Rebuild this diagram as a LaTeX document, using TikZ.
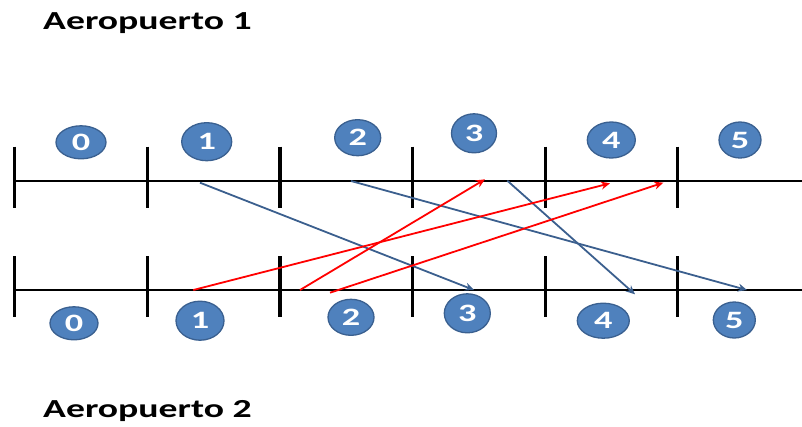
\documentclass[tikz,border=0pt]{standalone}
\usepackage{fontspec}
\setmainfont{Carlito}
\usetikzlibrary{shapes,arrows.meta,positioning}
\definecolor{bolita}{HTML}{4F81BD}
\definecolor{borde}{HTML}{3A6090}
\definecolor{azul}{HTML}{3B5F8E}
\newcommand{\ancho}[1]{\scalebox{1.45}[1]{#1}}
\tikzset{
    num/.style={ellipse,fill=bolita,draw=borde,line width=1.3pt,inner sep=0pt,
        text=white,font=\bfseries\fontsize{25}{25}\selectfont},
    titulo/.style={anchor=base west,inner sep=0pt,font=\bfseries\fontsize{26}{26}\selectfont},
    ida/.style={azul,line width=1.8pt,-{Stealth[length=9pt,width=8pt]}},
    vuelta/.style={red,line width=1.8pt,-{Stealth[length=9pt,width=8pt]}}
}

\begin{document}
\begin{tikzpicture}[x=1pt,y=-1pt]
\useasboundingbox (0,0) rectangle (802,426);
\node[titulo] (aero1) at (43,29) {\ancho{Aeropuerto 1}};
\node[titulo] (aero2) at (43,417) {\ancho{Aeropuerto 2}};
    \draw[line width=2pt] (14.7,180.7)--(802,180.7);
    \draw[line width=2pt] (14.7,290)--(802,290);
    \draw[line width=3.3pt] (14.7,146.7)--(14.7,207.7) (147.3,146.7)--(147.3,207.7)
        (280,146.7)--(280,207.7) (412.3,146.7)--(412.3,207.7)
        (545.3,146.7)--(545.3,207.7) (677.3,146.7)--(677.3,207.7);
    \draw[line width=3.3pt] (14.7,256)--(14.7,316.7) (147.3,256)--(147.3,316.7)
        (280,256)--(280,316.7) (412.3,256)--(412.3,316.7)
        (545.3,256)--(545.3,316.7) (677.3,256)--(677.3,316.7);
\node[num,minimum width=50pt,minimum height=33pt] (a0) at (81,142.3) {\ancho{0}};
\node[num,minimum width=50pt,minimum height=38pt] (a1) at (206.7,141.7) {\ancho{1}};
\node[num,minimum width=46pt,minimum height=36pt] (a2) at (357.7,137.7) {\ancho{2}};
\node[num,minimum width=45pt,minimum height=39pt] (a3) at (474,133.3) {\ancho{3}};
\node[num,minimum width=48pt,minimum height=36pt] (a4) at (611.3,140) {\ancho{4}};
\node[num,minimum width=42pt,minimum height=36pt] (a5) at (740,140) {\ancho{5}};
\node[num,minimum width=48pt,minimum height=33pt] (b0) at (74,323.3) {\ancho{0}};
\node[num,minimum width=48pt,minimum height=39pt] (b1) at (200,320.7) {\ancho{1}};
\node[num,minimum width=46pt,minimum height=36pt] (b2) at (351,317.3) {\ancho{2}};
\node[num,minimum width=46pt,minimum height=39pt] (b3) at (467.3,313.3) {\ancho{3}};
\node[num,minimum width=52pt,minimum height=35pt] (b4) at (603.3,320.7) {\ancho{4}};
\node[num,minimum width=42pt,minimum height=36pt] (b5) at (734.3,320) {\ancho{5}};
    \coordinate (sale1) at (200,182.7);
    \coordinate (llega1) at (474,290);
    \coordinate (sale2) at (351,181);
    \coordinate (llega2) at (747,290);
    \coordinate (sale3) at (507.3,180.7);
    \coordinate (llega3) at (635,294.3);
    \coordinate (parte1) at (193.3,290);
    \coordinate (arriba1) at (610,183.3);
    \coordinate (parte2) at (300,290);
    \coordinate (arriba2) at (485,179.3);
    \coordinate (parte3) at (330,292.7);
    \coordinate (arriba3) at (663.3,182.7);
\draw[ida] (sale1)--(llega1);
\draw[ida] (sale2)--(llega2);
\draw[ida] (sale3)--(llega3);
\draw[vuelta] (parte1)--(arriba1);
\draw[vuelta] (parte2)--(arriba2);
\draw[vuelta] (parte3)--(arriba3);
\end{tikzpicture}
\end{document}
